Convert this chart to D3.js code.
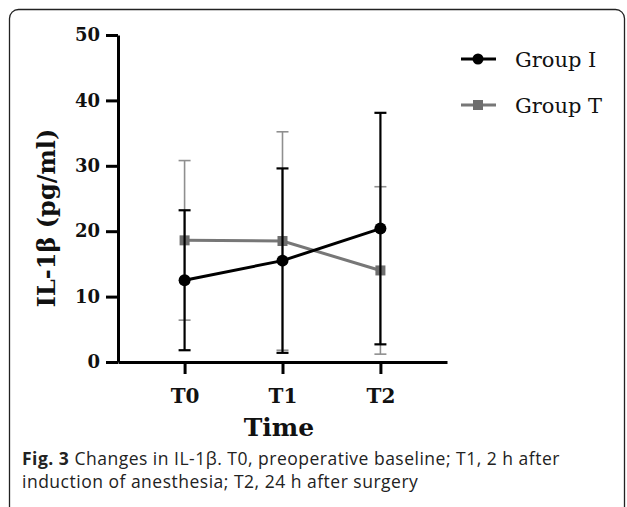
<!DOCTYPE html>
<html>
<head>
<meta charset="utf-8">
<script src="https://cdn.jsdelivr.net/npm/d3@7"></script>
<style>
  html, body { margin: 0; padding: 0; background: #fff; }
  svg { display: block; }
</style>
</head>
<body>
<svg id="chart" width="627" height="507"></svg>
<script>
const categories = ["T0", "T1", "T2"];
const groupIMean = [12.5, 15.5, 20.4];
const groupISD   = [10.7, 14.1, 17.7];
const groupTMean = [18.6, 18.5, 14.0];
const groupTSD   = [12.2, 16.7, 12.8];
const yTicks = [0, 10, 20, 30, 40, 50];
const seriesNames = ["Group I", "Group T"];

const svg = d3.select("#chart");

// frame
svg.append("rect")
  .attr("x", 9.5).attr("y", 9.5).attr("width", 615).attr("height", 520)
  .attr("rx", 9).attr("fill", "none").attr("stroke", "#222").attr("stroke-width", 1.3);

const x = d3.scalePoint().domain(categories).range([118, 447]).padding(0.68);
const y = d3.scaleLinear().domain([0, 50]).range([362, 35]);

const serif = "'DejaVu Serif', serif";

// y axis
const yAxis = svg.append("g").attr("transform", "translate(118,0)")
  .call(d3.axisLeft(y).tickValues(yTicks).tickSize(12).tickSizeOuter(0).tickPadding(6));
yAxis.select(".domain").attr("stroke", "#000").attr("stroke-width", 3);
yAxis.selectAll(".tick line").attr("stroke", "#000").attr("stroke-width", 3);
yAxis.selectAll(".tick text").attr("font-family", serif).attr("font-weight", "bold")
  .attr("font-size", 18).attr("fill", "#111");

// x axis
const xAxis = svg.append("g").attr("transform", "translate(0,362)")
  .call(d3.axisBottom(x).tickSize(12).tickSizeOuter(0).tickPadding(15));
xAxis.select(".domain").attr("stroke", "#000").attr("stroke-width", 3);
xAxis.selectAll(".tick line").attr("stroke", "#000").attr("stroke-width", 3);
xAxis.selectAll(".tick text").attr("font-family", serif).attr("font-weight", "bold")
  .attr("font-size", 20).attr("fill", "#111");

// axis titles
svg.append("text").attr("x", 279).attr("y", 436).attr("text-anchor", "middle")
  .attr("font-family", serif).attr("font-weight", "bold").attr("font-size", 25)
  .attr("fill", "#111").text("Time");
svg.append("text").attr("transform", "translate(55,218) rotate(-90)")
  .attr("text-anchor", "middle")
  .attr("font-family", serif).attr("font-weight", "bold").attr("font-size", 24)
  .attr("fill", "#111").text("IL-1β (pg/ml)");

const series = [
  { name: seriesNames[1], mean: groupTMean, sd: groupTSD, color: "#777", barColor: "#8f8f8f", barW: 1.6, marker: "square" },
  { name: seriesNames[0], mean: groupIMean, sd: groupISD, color: "#000", barColor: "#000", barW: 2.2, marker: "circle" }
];

const capHalf = 6;
series.forEach(s => {
  const g = svg.append("g");
  const pts = categories.map((c, i) => ({ c, m: s.mean[i], sd: s.sd[i] }));
  pts.forEach(p => {
    const lo = Math.max(0, p.m - p.sd), hi = p.m + p.sd;
    g.append("line").attr("x1", x(p.c)).attr("x2", x(p.c)).attr("y1", y(lo)).attr("y2", y(hi))
      .attr("stroke", s.barColor).attr("stroke-width", s.barW);
    [lo, hi].forEach(v => g.append("line")
      .attr("x1", x(p.c) - capHalf).attr("x2", x(p.c) + capHalf).attr("y1", y(v)).attr("y2", y(v))
      .attr("stroke", s.barColor).attr("stroke-width", s.barW));
  });
  g.append("path").datum(pts)
    .attr("d", d3.line().x(p => x(p.c)).y(p => y(p.m)))
    .attr("fill", "none").attr("stroke", s.color).attr("stroke-width", 3);
  pts.forEach(p => {
    if (s.marker === "circle") {
      g.append("circle").attr("cx", x(p.c)).attr("cy", y(p.m)).attr("r", 6).attr("fill", s.color);
    } else {
      g.append("rect").attr("x", x(p.c) - 5).attr("y", y(p.m) - 5).attr("width", 10).attr("height", 10)
        .attr("fill", "#6e6e6e");
    }
  });
});

// legend
const legend = [
  { name: seriesNames[0], color: "#000", marker: "circle", y: 59 },
  { name: seriesNames[1], color: "#777", marker: "square", y: 105 }
];
legend.forEach(l => {
  svg.append("line").attr("x1", 461).attr("x2", 496).attr("y1", l.y).attr("y2", l.y)
    .attr("stroke", l.color).attr("stroke-width", 3);
  if (l.marker === "circle") {
    svg.append("circle").attr("cx", 478).attr("cy", l.y).attr("r", 5.5).attr("fill", l.color);
  } else {
    svg.append("rect").attr("x", 473).attr("y", l.y - 5).attr("width", 10).attr("height", 10).attr("fill", "#6e6e6e");
  }
  svg.append("text").attr("x", 515).attr("y", l.y + 8)
    .attr("font-family", serif).attr("font-size", 21).attr("fill", "#111").text(l.name);
});

// caption
const capFont = "'Open Sans', sans-serif";
const cap1 = svg.append("text").attr("x", 22).attr("y", 465)
  .attr("font-family", capFont).attr("font-size", 17.5).attr("letter-spacing", 0.5).attr("fill", "#222");
cap1.append("tspan").attr("font-weight", "bold").text("Fig. 3");
cap1.append("tspan").text(" Changes in IL-1β. T0, preoperative baseline; T1, 2 h after");
svg.append("text").attr("x", 22).attr("y", 488)
  .attr("font-family", capFont).attr("font-size", 17.5).attr("letter-spacing", 0.5).attr("fill", "#222")
  .text("induction of anesthesia; T2, 24 h after surgery");
</script>
</body>
</html>
